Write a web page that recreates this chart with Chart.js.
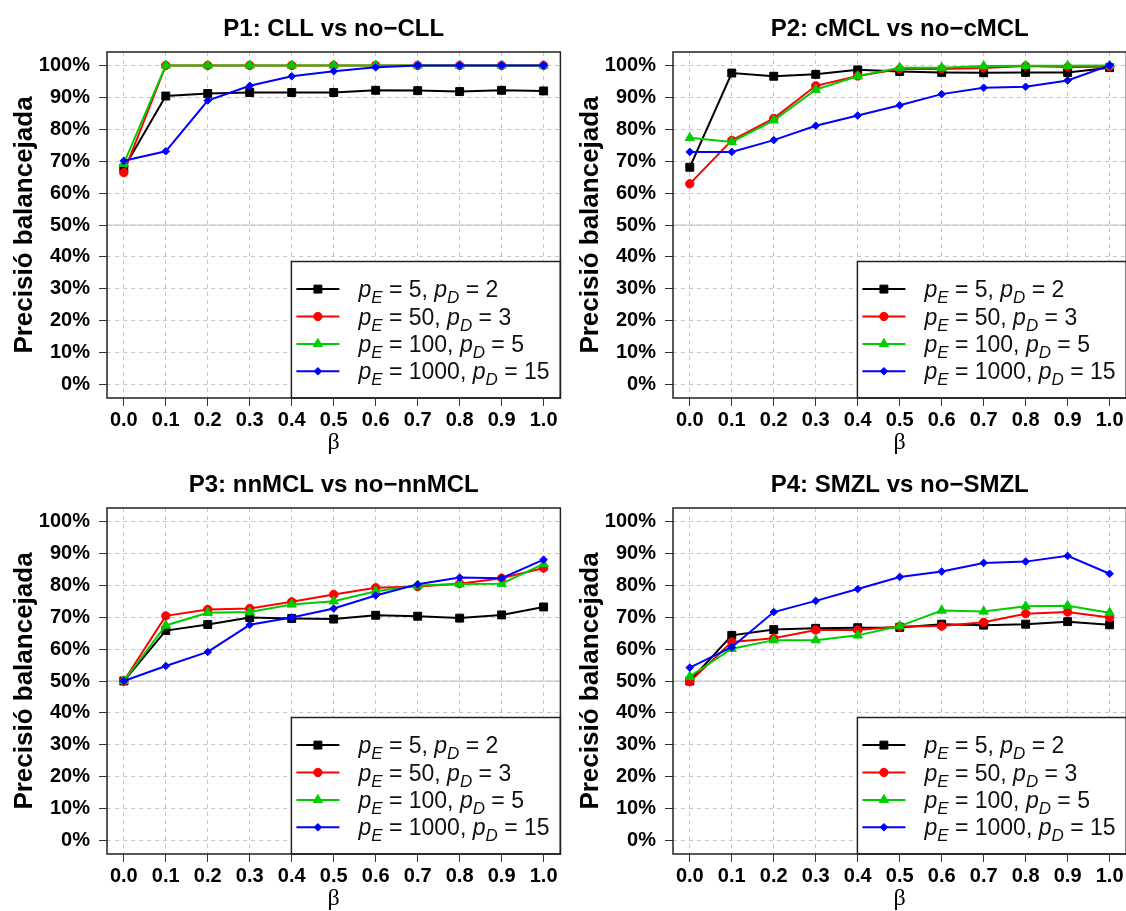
<!DOCTYPE html>
<html>
<head>
<meta charset="utf-8">
<script src="https://cdn.jsdelivr.net/npm/chart.js"></script>
<style>
  html, body { margin: 0; padding: 0; background: #fff; overflow: hidden; }
  body { width: 1126px; height: 911px; position: relative; }
  .panel { position: absolute; width: 567px; height: 455px; }
</style>
</head>
<body>
<div class="panel" style="left:0;top:0"><canvas id="p1" width="567" height="455"></canvas></div>
<div class="panel" style="left:566px;top:0"><canvas id="p2" width="567" height="455"></canvas></div>
<div class="panel" style="left:0;top:456px"><canvas id="p3" width="567" height="455"></canvas></div>
<div class="panel" style="left:566px;top:456px"><canvas id="p4" width="567" height="455"></canvas></div>

<script>
// x values (beta) and axis ticks
var betas = [0.0, 0.1, 0.2, 0.3, 0.4, 0.5, 0.6, 0.7, 0.8, 0.9, 1.0];
var xTicks = [0.0, 0.1, 0.2, 0.3, 0.4, 0.5, 0.6, 0.7, 0.8, 0.9, 1.0];
var yTicks = [0, 10, 20, 30, 40, 50, 60, 70, 80, 90, 100];

// series: p_E / p_D settings
var pE = [5, 50, 100, 1000];
var pD = [2, 3, 5, 15];
var colors = ['#000000', '#ff0000', '#00cd00', '#0000ff'];
var pointStyles = ['rect', 'circle', 'triangle', 'rectRot'];
var pointSizes = [5.6, 4.2, 5.4, 3.8];

var titles = ['P1: CLL vs no\u2212CLL', 'P2: cMCL vs no\u2212cMCL',
              'P3: nnMCL vs no\u2212nnMCL', 'P4: SMZL vs no\u2212SMZL'];

// balanced accuracy (%) per panel, one array per series
var p1Black = [67.8, 90.4, 91.2, 91.5, 91.5, 91.5, 92.2, 92.1, 91.8, 92.2, 92.0];
var p1Red   = [66.4, 100, 100, 100, 100, 100, 100, 100, 100, 100, 100];
var p1Green = [69.2, 100, 100, 100, 100, 100, 100, 100, 100, 100, 100];
var p1Blue  = [70.1, 73.1, 89.0, 93.6, 96.6, 98.2, 99.4, 100, 100, 100, 100];

var p2Black = [68.1, 97.6, 96.6, 97.2, 98.6, 98.1, 97.8, 97.7, 97.8, 97.8, 99.3];
var p2Red   = [62.9, 76.5, 83.4, 93.6, 96.7, 98.9, 98.9, 99.2, 99.8, 99.5, 99.6];
var p2Green = [77.3, 76.0, 82.8, 92.4, 96.6, 99.3, 99.3, 99.8, 99.9, 99.9, 100];
var p2Blue  = [72.9, 72.9, 76.6, 81.1, 84.3, 87.5, 91.0, 93.0, 93.3, 95.3, 100];

var p3Black = [50.0, 65.8, 67.7, 69.9, 69.6, 69.4, 70.6, 70.3, 69.7, 70.7, 73.2];
var p3Red   = [50.0, 70.4, 72.4, 72.7, 74.8, 77.1, 79.2, 79.6, 80.5, 82.2, 85.4];
var p3Green = [50.0, 67.4, 71.4, 71.6, 74.0, 75.0, 78.1, 79.9, 80.4, 80.5, 86.7];
var p3Blue  = [50.0, 54.7, 59.1, 67.6, 69.9, 72.7, 76.8, 80.3, 82.4, 82.2, 88.0];

var p4Black = [50.0, 64.3, 66.1, 66.5, 66.7, 66.8, 67.8, 67.5, 67.8, 68.6, 67.6];
var p4Red   = [49.8, 62.2, 63.4, 66.0, 66.0, 67.1, 67.2, 68.4, 71.1, 71.6, 69.9];
var p4Green = [51.4, 60.1, 62.8, 62.8, 64.3, 67.2, 72.1, 71.8, 73.4, 73.6, 71.4];
var p4Blue  = [54.2, 60.6, 71.6, 75.1, 78.8, 82.6, 84.3, 87.0, 87.4, 89.2, 83.6];

var panels = [
  [p1Black, p1Red, p1Green, p1Blue],
  [p2Black, p2Red, p2Green, p2Blue],
  [p3Black, p3Red, p3Green, p3Blue],
  [p4Black, p4Red, p4Green, p4Blue]
];

var FONT = "'Liberation Sans', Arial, sans-serif";

function drawLegend(chart) {
  var ctx = chart.ctx, a = chart.chartArea;
  var x0 = a.right - 269, y0 = a.bottom - 136.5;
  ctx.save();
  ctx.fillStyle = '#fff';
  ctx.fillRect(x0, y0, a.right - x0, a.bottom - y0);
  ctx.strokeStyle = '#222';
  ctx.lineWidth = 1.5;
  ctx.strokeRect(x0, y0, a.right - x0, a.bottom - y0);
  chart.data.datasets.forEach(function (ds, i) {
    var y = y0 + 27.6 + i * 27.4;
    ctx.strokeStyle = ds.borderColor;
    ctx.lineWidth = 2;
    ctx.beginPath();
    ctx.moveTo(x0 + 5, y);
    ctx.lineTo(x0 + 48, y);
    ctx.stroke();
    ctx.fillStyle = ds.borderColor;
    ctx.lineWidth = 1;
    Chart.helpers.drawPoint(ctx, {pointStyle: ds.pointStyle, radius: ds.pointRadius, borderWidth: 1, rotation: 0}, x0 + 26.5, y);
    // text with italic subscripts
    var segs = [
      {t: 'p', it: true}, {t: 'E', it: true, sub: true},
      {t: ' = ' + pE[i] + ', '},
      {t: 'p', it: true}, {t: 'D', it: true, sub: true},
      {t: ' = ' + pD[i]}
    ];
    var tx = x0 + 67, base = y + 8;
    ctx.fillStyle = '#111';
    ctx.textBaseline = 'alphabetic';
    ctx.textAlign = 'left';
    segs.forEach(function (s) {
      ctx.font = (s.it ? 'italic ' : '') + (s.sub ? '17px ' : '23px ') + FONT;
      ctx.fillText(s.t, tx, s.sub ? base + 6 : base);
      tx += ctx.measureText(s.t).width;
    });
  });
  ctx.restore();
}

var framePlugin = {
  id: 'frame',
  beforeDatasetsDraw: function (chart) {
    var ctx = chart.ctx, a = chart.chartArea;
    var y = chart.scales.y.getPixelForValue(50);
    ctx.save();
    ctx.strokeStyle = '#bdbdbd';
    ctx.lineWidth = 1;
    ctx.beginPath();
    ctx.moveTo(a.left, y);
    ctx.lineTo(a.right, y);
    ctx.stroke();
    ctx.restore();
  },
  afterDraw: function (chart) {
    var ctx = chart.ctx, a = chart.chartArea;
    drawLegend(chart);
    ctx.save();
    ctx.strokeStyle = '#222';
    ctx.lineWidth = 1.5;
    ctx.strokeRect(a.left, a.top, a.right - a.left, a.bottom - a.top);
    ctx.fillStyle = '#000';
    ctx.font = 'bold 24px ' + FONT;
    ctx.textAlign = 'center';
    ctx.textBaseline = 'middle';
    ctx.fillText(chart.options.plugins.frame.title, (a.left + a.right) / 2, 29);
    ctx.restore();
  }
};

function makeChart(id, k) {
  var datasets = panels[k].map(function (vals, i) {
    return {
      label: 'pE = ' + pE[i] + ', pD = ' + pD[i],
      data: vals.map(function (v, j) { return {x: betas[j], y: v}; }),
      borderColor: colors[i],
      backgroundColor: colors[i],
      borderWidth: 2,
      pointStyle: pointStyles[i],
      pointRadius: pointSizes[i],
      pointBorderWidth: 1,
      order: 4 - i
    };
  });
  return new Chart(document.getElementById(id), {
    type: 'line',
    data: {datasets: datasets},
    plugins: [framePlugin],
    options: {
      responsive: false,
      animation: false,
      events: [],
      layout: {padding: {top: 52, right: 3, left: 0, bottom: 0}},
      plugins: {
        legend: {display: false},
        tooltip: {enabled: false},
        frame: {title: titles[k]}
      },
      scales: {
        x: {
          type: 'linear',
          min: -0.04, max: 1.04,
          afterBuildTicks: function (s) { s.ticks = xTicks.map(function (v) { return {value: v}; }); },
          afterFit: function (s) { s.height = 57; s.paddingLeft = 0; s.paddingRight = 0; },
          grid: {color: '#c8c8c8', lineWidth: 1, tickColor: '#333', tickLength: 8},
          border: {display: false, dash: [4, 4]},
          ticks: {
            padding: 2, color: '#000', maxRotation: 0, autoSkip: false,
            font: {family: FONT, size: 20, weight: 'bold'},
            callback: function (v) { return v.toFixed(1); }
          },
          title: {
            display: true, text: '\u03b2', color: '#000',
            font: {family: "'Liberation Serif', 'DejaVu Serif', serif", size: 24, lineHeight: 1},
            padding: {top: 0, bottom: 0}
          }
        },
        y: {
          type: 'linear',
          min: -4.2, max: 104.2,
          afterBuildTicks: function (s) { s.ticks = yTicks.map(function (v) { return {value: v}; }); },
          afterFit: function (s) { s.width = 107; s.paddingTop = 0; s.paddingBottom = 0; },
          grid: {color: '#c8c8c8', lineWidth: 1, tickColor: '#333', tickLength: 8},
          border: {display: false, dash: [4, 4]},
          ticks: {
            padding: 9, color: '#000', autoSkip: false,
            font: {family: FONT, size: 20, weight: 'bold'},
            callback: function (v) { return v + '%'; }
          },
          title: {
            display: true, text: 'Precisió balancejada', color: '#000',
            font: {family: FONT, size: 26, weight: 'bold', lineHeight: 1},
            padding: {top: 12, bottom: 0}
          }
        }
      }
    }
  });
}

makeChart('p1', 0);
makeChart('p2', 1);
makeChart('p3', 2);
makeChart('p4', 3);
</script>
</body>
</html>
